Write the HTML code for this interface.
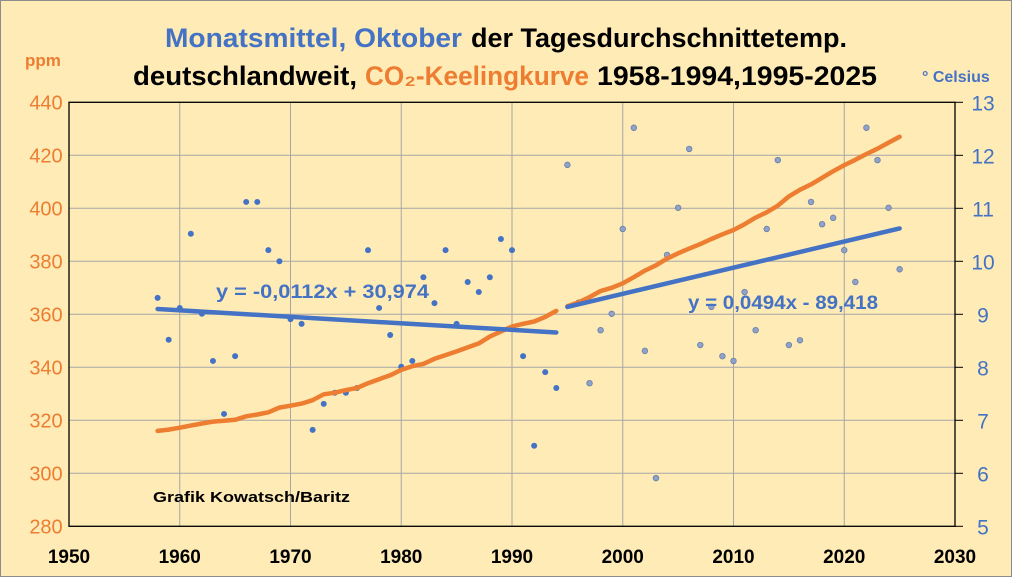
<!DOCTYPE html>
<html><head><meta charset="utf-8"><style>
html,body{margin:0;padding:0;background:#FFEBB6;}
svg{display:block;font-family:"Liberation Sans",sans-serif;}
</style></head><body>
<svg id="chart" width="1012" height="577" viewBox="0 0 1012 577" xmlns="http://www.w3.org/2000/svg">
<rect x="0.5" y="0.5" width="1011" height="576" fill="#FFEBB6" stroke="#8C8C8C"/>
<g font-weight="bold" font-size="27">
<text x="165" y="47" textLength="297" lengthAdjust="spacingAndGlyphs" fill="#4472C4">Monatsmittel, Oktober</text>
<text x="471" y="47" textLength="376" lengthAdjust="spacingAndGlyphs" fill="#000">der Tagesdurchschnittetemp.</text>
<text x="133" y="85" textLength="224" lengthAdjust="spacingAndGlyphs" fill="#000">deutschlandweit,</text>
<text x="365" y="85" textLength="224" lengthAdjust="spacingAndGlyphs" fill="#ED7D31">CO₂-Keelingkurve</text>
<text x="597" y="85" textLength="280" lengthAdjust="spacingAndGlyphs" fill="#000">1958-1994,1995-2025</text>
</g>
<text x="25" y="66" font-size="17" font-weight="bold" fill="#ED7D31">ppm</text>
<text x="922" y="82" font-size="16" font-weight="bold" fill="#4472C4">° Celsius</text>
<g id="grid"></g>
<g id="axes"></g>
<g id="marks"></g>
<text x="216" y="298" font-size="19" font-weight="bold" fill="#4472C4" textLength="213" lengthAdjust="spacingAndGlyphs">y = -0,0112x + 30,974</text>
<text x="688" y="309" font-size="19" font-weight="bold" fill="#4472C4" textLength="190" lengthAdjust="spacingAndGlyphs">y = 0,0494x - 89,418</text>
<text x="153" y="502" font-size="15" font-weight="bold" fill="#000" textLength="197" lengthAdjust="spacingAndGlyphs">Grafik Kowatsch/Baritz</text>
</svg>
<script>
const xTicks=[1950,1960,1970,1980,1990,2000,2010,2020,2030];
const ppmTicks=[280,300,320,340,360,380,400,420,440];
const tempTicks=[5,6,7,8,9,10,11,12,13];
const years1=[1958,1959,1960,1961,1962,1963,1964,1965,1966,1967,1968,1969,1970,1971,1972,1973,1974,1975,1976,1977,1978,1979,1980,1981,1982,1983,1984,1985,1986,1987,1988,1989,1990,1991,1992,1993,1994];
const temp1=[9.31,8.52,9.12,10.52,9.01,8.12,7.12,8.21,11.12,11.12,10.21,10.0,8.91,8.82,6.82,7.31,7.52,7.52,7.61,10.21,9.12,8.61,8.01,8.12,9.70,9.21,10.21,8.82,9.61,9.42,9.70,10.42,10.21,8.21,6.52,7.91,7.61];
const co2_1=[316,316.5,317.2,318,318.8,319.5,319.8,320.2,321.5,322.2,323,324.8,325.5,326.3,327.6,329.8,330.4,331.4,332.2,334,335.5,337,339,340.4,341.3,343.2,344.6,346,347.5,349,351.6,353.5,355.4,356.4,357.3,359,361.3];
const years2=[1995,1996,1997,1998,1999,2000,2001,2002,2003,2004,2005,2006,2007,2008,2009,2010,2011,2012,2013,2014,2015,2016,2017,2018,2019,2020,2021,2022,2023,2024,2025];
const temp2=[11.82,9.22,7.70,8.70,9.01,10.61,12.52,8.31,5.91,10.12,11.01,12.12,8.42,9.14,8.21,8.12,9.42,8.70,10.61,11.91,8.42,8.51,11.12,10.70,10.82,10.21,9.61,12.52,11.91,11.01,9.85];
const co2_2=[363,364.5,366.5,368.8,370,371.7,374,376.5,378.5,381,383,384.8,386.5,388.4,390.2,391.8,394,396.5,398.5,401,404.5,407,409,411.5,414,416.3,418.3,420.5,422.5,424.8,427];

const L=69,R=955,T=102.3,B=526.3;
const X=v=>L+(v-1950)/(2030-1950)*(R-L);
const YP=v=>B-(v-280)/(440-280)*(B-T);
const YT=v=>B-(v-5)/(13-5)*(B-T);
const NS='http://www.w3.org/2000/svg';
function mk(tag,attrs,parent){const e=document.createElementNS(NS,tag);for(const k in attrs)e.setAttribute(k,attrs[k]);parent.appendChild(e);return e;}
const grid=document.getElementById('grid'),axes=document.getElementById('axes'),marks=document.getElementById('marks');
xTicks.forEach(t=>{
  const l=mk('line',{x1:X(t),x2:X(t),y1:T,y2:B,stroke:'#A6A6A6','stroke-width':1},grid);
  
  
  const tx=mk('text',{x:X(t),y:563,'text-anchor':'middle','font-size':19,'font-weight':'bold',fill:'#000'},axes);
  tx.textContent=t;
  
  
});
ppmTicks.forEach(t=>{
  const l=mk('line',{x1:L,x2:R,y1:YP(t),y2:YP(t),stroke:'#A6A6A6','stroke-width':1},grid);
  
  
  const tx=mk('text',{x:46,y:YP(t)+7,'text-anchor':'middle','font-size':20,fill:'#ED7D31'},axes);
  tx.textContent=t;
  
  
});
tempTicks.forEach(t=>{
  const l=mk('line',{x1:R,x2:963,y1:YT(t),y2:YT(t),stroke:'#000','stroke-width':1},axes);
  
  
  const tx=mk('text',{x:983,y:YT(t)+8,'text-anchor':'middle','font-size':21,fill:'#4472C4'},axes);
  tx.textContent=t;
  
  
});
const frame=mk('rect',{x:L,y:T,width:R-L,height:B-T,fill:'none',stroke:'#000','stroke-width':1.3},axes);



function line(xs,ys,yf,color,name){
  const d=xs.map((x,i)=>(i?'L':'M')+X(x).toFixed(1)+','+yf(ys[i]).toFixed(1)).join(' ');
  const p=mk('path',{d:d,fill:'none',stroke:color,'stroke-width':4.5,'stroke-linecap':'round','stroke-linejoin':'round'},marks);
  
  
}
function trend(xs,ys,name){
  const n=xs.length;let sx=0,sy=0,sxx=0,sxy=0;
  for(let i=0;i<n;i++){sx+=xs[i];sy+=ys[i];sxx+=xs[i]*xs[i];sxy+=xs[i]*ys[i];}
  const m=(n*sxy-sx*sy)/(n*sxx-sx*sx),b=(sy-m*sx)/n;
  const x0=xs[0],x1=xs[n-1];
  const l=mk('line',{x1:X(x0),y1:YT(m*x0+b),x2:X(x1),y2:YT(m*x1+b),stroke:'#4472C4','stroke-width':4.5,'stroke-linecap':'round'},marks);
  
  
}
function dots(xs,ys,fill,stroke,name){
  xs.forEach((x,i)=>{
    const c=mk('circle',{cx:X(x),cy:YT(ys[i]),r:stroke?2.8:3,fill:fill,stroke:stroke||'none','stroke-width':0.8},marks);
    
    
  });
}
dots(years1,temp1,'#4472C4',null,'temp-point-1958-1994');
dots(years2,temp2,'#8FA2C8','#6A7FA8','temp-point-1995-2025');
line(years1,co2_1,YP,'#ED7D31','co2-line-1958-1994');
line(years2,co2_2,YP,'#ED7D31','co2-line-1995-2025');
trend(years1,temp1,'temp-trendline-1958-1994');
trend(years2,temp2,'temp-trendline-1995-2025');
</script>
</body></html>
